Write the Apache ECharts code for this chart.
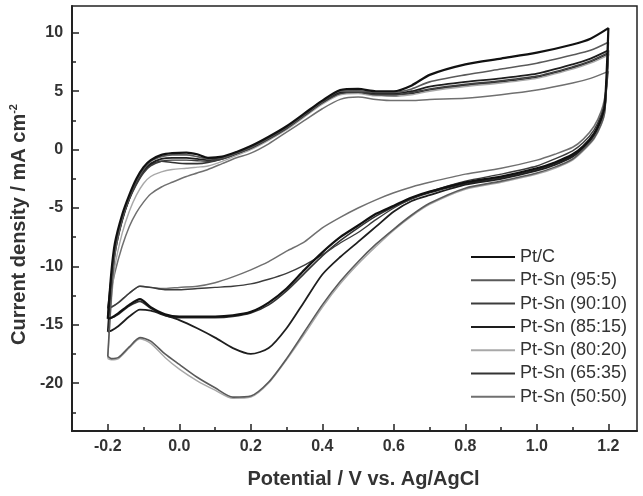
<!DOCTYPE html>
<html>
<head>
<meta charset="utf-8">
<script src="https://cdn.jsdelivr.net/npm/echarts@6/dist/echarts.min.js"></script>
<style>
html, body { margin: 0; padding: 0; background: #fff; }
#chart { width: 643px; height: 496px; }
</style>
</head>
<body>
<div id="chart"></div>
<script>
// sample names, in legend order
var names = ['Pt/C', 'Pt-Sn (95:5)', 'Pt-Sn (90:10)', 'Pt-Sn (85:15)', 'Pt-Sn (80:20)', 'Pt-Sn (65:35)', 'Pt-Sn (50:50)'];

// potentials (V) of the anodic (forward) and cathodic (reverse) scan
var fwdE = [-0.2, -0.19, -0.18, -0.16, -0.14, -0.12, -0.1, -0.08, -0.05, -0.02, 0.02, 0.05, 0.08, 0.12, 0.16, 0.2,
            0.25, 0.3, 0.35, 0.4, 0.45, 0.5, 0.55, 0.6, 0.65, 0.7, 0.8, 0.9, 1.0, 1.1, 1.15, 1.2];
var revE = [1.19, 1.18, 1.16, 1.13, 1.1, 1.05, 1.0, 0.9, 0.8, 0.7, 0.65, 0.6, 0.55, 0.5, 0.45, 0.4, 0.35, 0.3,
            0.25, 0.2, 0.15, 0.1, 0.05, 0.0, -0.04, -0.08, -0.11, -0.14, -0.17, -0.19, -0.2];

// current density (mA cm-2)
var fwdPtC   = [-14.5, -10.5, -8.0, -5.6, -3.9, -2.5, -1.5, -0.9, -0.45, -0.3, -0.25, -0.4, -0.7, -0.6, -0.2, 0.3, 1.1, 2.0, 3.1, 4.2, 5.1, 5.2, 5.0, 5.0, 5.5, 6.4, 7.3, 7.8, 8.3, 9.0, 9.5, 10.4];
var revPtC   = [3.8, 2.7, 1.4, 0.3, -0.4, -1.1, -1.6, -2.3, -2.8, -3.6, -4.1, -4.8, -5.5, -6.5, -7.5, -8.8, -10.3, -11.9, -13.1, -13.9, -14.2, -14.3, -14.3, -14.3, -14.1, -13.5, -12.8, -13.3, -14.0, -14.4, -14.5];
var fwd95    = [-17.7, -12.5, -9.0, -6.0, -4.1, -2.7, -1.7, -1.0, -0.6, -0.45, -0.45, -0.6, -0.8, -0.7, -0.3, 0.2, 1.0, 1.9, 3.0, 4.1, 5.0, 5.0, 4.9, 4.9, 5.2, 5.8, 6.4, 6.9, 7.4, 8.1, 8.5, 9.2];
var rev95    = [3.3, 2.2, 1.0, 0.0, -0.8, -1.5, -2.0, -2.7, -3.3, -4.6, -5.6, -6.8, -8.1, -9.6, -11.3, -13.3, -15.6, -17.9, -19.9, -21.1, -21.2, -20.4, -19.5, -18.4, -17.5, -16.4, -16.1, -16.9, -17.8, -17.9, -17.7];
var fwd90    = [-13.6, -10.8, -8.5, -6.0, -4.3, -3.0, -2.0, -1.4, -1.0, -0.9, -0.9, -0.95, -1.0, -0.8, -0.35, 0.1, 0.9, 1.8, 2.9, 4.0, 4.8, 4.9, 4.7, 4.7, 4.9, 5.2, 5.6, 5.9, 6.3, 7.1, 7.6, 8.3];
var rev90    = [4.2, 3.0, 1.7, 0.6, -0.1, -0.8, -1.4, -2.1, -2.7, -3.6, -4.2, -5.0, -6.0, -7.1, -8.0, -9.0, -9.9, -10.6, -11.1, -11.5, -11.7, -11.8, -11.9, -12.0, -12.0, -11.8, -11.7, -12.3, -13.1, -13.5, -13.6];
var fwd85    = [-15.6, -11.5, -8.8, -6.1, -4.2, -2.8, -1.8, -1.2, -0.8, -0.7, -0.7, -0.8, -0.9, -0.7, -0.3, 0.2, 1.0, 1.9, 3.0, 4.1, 4.9, 5.0, 4.8, 4.8, 5.0, 5.4, 5.8, 6.1, 6.5, 7.3, 7.8, 8.5];
var rev85    = [3.6, 2.5, 1.2, 0.1, -0.6, -1.3, -1.8, -2.5, -3.0, -3.9, -4.4, -5.3, -6.6, -7.9, -9.2, -10.7, -13.0, -15.3, -17.0, -17.5, -17.0, -16.1, -15.3, -14.6, -14.2, -13.8, -13.7, -14.3, -15.1, -15.5, -15.6];
var fwd80    = [-17.9, -13.0, -10.0, -7.2, -5.3, -3.9, -2.9, -2.3, -1.9, -1.7, -1.6, -1.5, -1.4, -1.0, -0.5, 0.0, 0.8, 1.7, 2.8, 3.9, 4.7, 4.8, 4.6, 4.6, 4.7, 5.0, 5.4, 5.7, 6.1, 6.9, 7.4, 8.1];
var rev80    = [3.2, 2.1, 0.9, -0.1, -0.9, -1.6, -2.1, -2.8, -3.4, -4.7, -5.7, -6.9, -8.3, -9.8, -11.5, -13.5, -15.8, -18.0, -20.0, -21.2, -21.3, -20.6, -19.8, -18.8, -17.8, -16.6, -16.2, -17.0, -17.9, -18.0, -17.9];
var fwd65    = [-14.4, -11.0, -8.6, -6.0, -4.2, -2.9, -1.9, -1.3, -1.0, -1.1, -1.2, -1.2, -1.1, -0.8, -0.4, 0.1, 0.9, 1.8, 2.9, 4.0, 4.8, 4.9, 4.7, 4.6, 4.8, 5.1, 5.5, 5.8, 6.2, 7.0, 7.5, 8.2];
var rev65    = [3.6, 2.5, 1.3, 0.2, -0.5, -1.2, -1.7, -2.4, -2.9, -3.7, -4.2, -4.9, -5.7, -6.7, -7.8, -9.1, -10.6, -12.1, -13.3, -14.0, -14.3, -14.4, -14.4, -14.4, -14.2, -13.6, -13.0, -13.4, -14.1, -14.4, -14.4];
var fwd50    = [-13.6, -12.0, -10.5, -8.3, -6.6, -5.4, -4.5, -3.8, -3.2, -2.8, -2.3, -2.0, -1.7, -1.2, -0.7, -0.3, 0.5, 1.5, 2.5, 3.5, 4.3, 4.5, 4.3, 4.2, 4.2, 4.3, 4.4, 4.7, 5.1, 5.7, 6.1, 6.7];
var rev50    = [4.5, 3.3, 2.0, 0.9, 0.2, -0.4, -0.9, -1.6, -2.1, -2.8, -3.2, -3.7, -4.3, -5.0, -5.8, -6.7, -7.9, -8.7, -9.6, -10.3, -10.9, -11.4, -11.7, -11.8, -11.9, -11.8, -11.7, -12.3, -13.1, -13.5, -13.6];

// axis ticks
var xMajor = [-0.2, 0, 0.2, 0.4, 0.6, 0.8, 1.0, 1.2];
var xMinor = [-0.1, 0.1, 0.3, 0.5, 0.7, 0.9, 1.1];
var yMajor = [-20, -15, -10, -5, 0, 5, 10];
var yMinor = [-22.5, -17.5, -12.5, -7.5, -2.5, 2.5, 7.5];

var fwdData = [fwdPtC, fwd95, fwd90, fwd85, fwd80, fwd65, fwd50];
var revData = [revPtC, rev95, rev90, rev85, rev80, rev65, rev50];
var colors = ['#111111', '#5a5a5a', '#3c3c3c', '#1e1e1e', '#a8a8a8', '#333333', '#707070'];
var widths = [2.2, 1.6, 1.4, 1.8, 1.4, 1.6, 1.5];

function loop(fwd, rev) {
    var pts = [];
    for (var i = 0; i < fwdE.length; i++) pts.push([fwdE[i], fwd[i]]);
    for (var j = 0; j < revE.length; j++) pts.push([revE[j], rev[j]]);
    return pts;
}

var font = 'Liberation Sans, Arial, sans-serif';
var axisCol = '#222';
var xMin = -0.3, xMax = 1.28, yMin = -24.1, yMax = 12.3;

var myChart = echarts.init(document.getElementById('chart'));
myChart.setOption({
    animation: false,
    backgroundColor: '#fff',
    color: colors,
    grid: {
        left: 71, right: 6, top: 6, bottom: 65,
        show: true, borderColor: axisCol, borderWidth: 1.5, backgroundColor: 'transparent'
    },
    legend: {
        orient: 'vertical',
        left: 466, top: 243,
        itemWidth: 44, itemHeight: 2, itemGap: 5.3,
        icon: 'rect',
        textStyle: { fontFamily: font, fontSize: 18, color: '#333', lineHeight: 18 },
        data: names
    },
    xAxis: [{
        type: 'value', min: xMin, max: xMax,
        name: 'Potential / V vs. Ag/AgCl', nameLocation: 'middle', nameGap: 38,
        nameTextStyle: { fontFamily: font, fontSize: 20, fontWeight: 'bold', color: '#333', padding: [0, 0, 0, 18] },
        axisLine: { onZero: false, lineStyle: { color: axisCol, width: 2 } },
        axisTick: { inside: true, length: 7, lineStyle: { color: axisCol, width: 1.5 }, customValues: xMajor },
        axisLabel: {
            customValues: xMajor, margin: 8,
            fontFamily: font, fontSize: 16, fontWeight: 'bold', color: '#333',
            formatter: function (v) { return v.toFixed(1); }
        },
        splitLine: { show: false }
    }, {
        type: 'value', min: xMin, max: xMax, position: 'bottom',
        axisLine: { show: false, onZero: false },
        axisTick: { inside: true, length: 4, lineStyle: { color: axisCol, width: 1.5 }, customValues: xMinor },
        axisLabel: { show: false },
        splitLine: { show: false }
    }],
    yAxis: [{
        type: 'value', min: yMin, max: yMax,
        name: '{t|Current density / mA cm}{s|-2}', nameLocation: 'middle', nameGap: 39,
        nameTextStyle: {
            padding: [0, 12, 0, 0],
            rich: {
                t: { fontFamily: font, fontSize: 20, fontWeight: 'bold', color: '#333', lineHeight: 22 },
                s: { fontFamily: font, fontSize: 11, fontWeight: 'bold', color: '#333', verticalAlign: 'top', lineHeight: 22 }
            }
        },
        axisLine: { onZero: false, lineStyle: { color: axisCol, width: 2 } },
        axisTick: { inside: true, length: 7, lineStyle: { color: axisCol, width: 1.5 }, customValues: yMajor },
        axisLabel: { customValues: yMajor, margin: 9, fontFamily: font, fontSize: 16, fontWeight: 'bold', color: '#333' },
        splitLine: { show: false }
    }, {
        type: 'value', min: yMin, max: yMax, position: 'left',
        axisLine: { show: false, onZero: false },
        axisTick: { inside: true, length: 4, lineStyle: { color: axisCol, width: 1.5 }, customValues: yMinor },
        axisLabel: { show: false },
        splitLine: { show: false }
    }],
    series: names.map(function (n, k) {
        return {
            name: n,
            type: 'line',
            xAxisIndex: 0, yAxisIndex: 0,
            data: loop(fwdData[k], revData[k]),
            symbol: 'none',
            smooth: 0.25,
            lineStyle: { color: colors[k], width: widths[k] },
            itemStyle: { color: colors[k] },
            z: 10 - k
        };
    })
});
</script>
</body>
</html>
